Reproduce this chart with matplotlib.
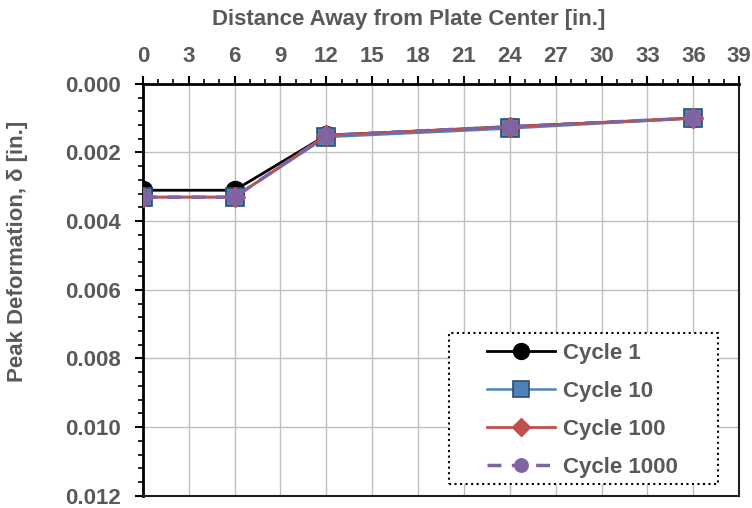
import matplotlib
matplotlib.use('Agg')
import matplotlib.pyplot as plt
from matplotlib.patches import Rectangle
from matplotlib.ticker import MultipleLocator, FormatStrFormatter

plt.rcParams['font.family'] = ['Liberation Sans', 'DejaVu Sans']

dist = [0, 6, 12, 24, 36]
cycle1 = [0.0031, 0.0031, 0.0015, 0.00125, 0.0010]
cycle10 = [0.0033, 0.0033, 0.00155, 0.0013, 0.0010]
cycle100 = [0.0033, 0.0033, 0.0015, 0.00125, 0.0010]
cycle1000 = [0.0033, 0.0033, 0.0015, 0.00125, 0.0010]
labels = ['Cycle 1', 'Cycle 10', 'Cycle 100', 'Cycle 1000']

gray = '#595959'

fig = plt.figure(figsize=(7.52, 5.08), dpi=100)
ax = fig.add_axes([0.190, 0.024, 0.793, 0.811])

ax.plot(dist, cycle1, '-o', color='black', lw=2, ms=13, label=labels[0], zorder=3)
ax.plot(dist, cycle10, '-s', color='#4F81BD', lw=1.8, ms=13, mfc='#4F81BD',
        mec='#2C4D75', mew=1.2, label=labels[1], zorder=4)
ax.plot(dist, cycle100, '-D', color='#C0504D', lw=2, ms=10, label=labels[2], zorder=5)
ax.plot(dist, cycle1000, '--o', color='#8064A2', lw=2.5, ms=11, dashes=(4, 3),
        label=labels[3], zorder=6)

ax.set_xlim(0, 39)
ax.set_ylim(0.012, 0.0)
ax.xaxis.set_major_locator(MultipleLocator(3))
ax.xaxis.set_minor_locator(MultipleLocator(1))
ax.yaxis.set_major_locator(MultipleLocator(0.002))
ax.yaxis.set_minor_locator(MultipleLocator(0.0004))
ax.yaxis.set_major_formatter(FormatStrFormatter('%.3f'))
ax.xaxis.tick_top()

ax.grid(True, which='major', color='#BFBFBF', lw=1)
ax.set_axisbelow(True)

ax.tick_params(axis='both', which='major', direction='out', length=6, width=1.5,
               labelsize=16, labelcolor=gray)
ax.tick_params(axis='x', which='major', pad=6)
ax.tick_params(axis='y', which='major', pad=10)
ax.tick_params(axis='both', which='minor', direction='out', length=3.5, width=1.2)
for lab in ax.get_xticklabels() + ax.get_yticklabels():
    lab.set_fontweight('bold')

for side in ['top', 'left']:
    ax.spines[side].set_linewidth(2)
for side in ['bottom', 'right']:
    ax.spines[side].set_linewidth(1.5)
    ax.spines[side].set_color('#202020')

fig.text(409 / 752, 1 - 20 / 508, 'Distance Away from Plate Center [in.]', fontsize=16,
         fontweight='bold', color=gray, ha='center', va='center')
fig.text(18 / 752, 1 - 251 / 508, 'Peak Deformation, δ [in.]', fontsize=16,
         fontweight='bold', color=gray, ha='center', va='center', rotation=90)

# dotted legend box (Excel style, wider than the entries)
ax.add_patch(Rectangle((449 / 752, 1 - 484 / 508), 269 / 752, 151 / 508,
                       transform=fig.transFigure, fc='white', ec='black',
                       ls=':', lw=1.5, zorder=10, clip_on=False))

leg = ax.legend(loc='upper left', bbox_to_anchor=(487 / 752, 1 - 343 / 508),
                bbox_transform=fig.transFigure, fontsize=16, frameon=False,
                handlelength=3.05, borderpad=0, borderaxespad=0, markerscale=0.88,
                labelspacing=0.76, handletextpad=0.36)
leg.set_zorder(11)
for t in leg.get_texts():
    t.set_color(gray)
    t.set_fontweight('bold')

fig.savefig('out.png', dpi=100)
